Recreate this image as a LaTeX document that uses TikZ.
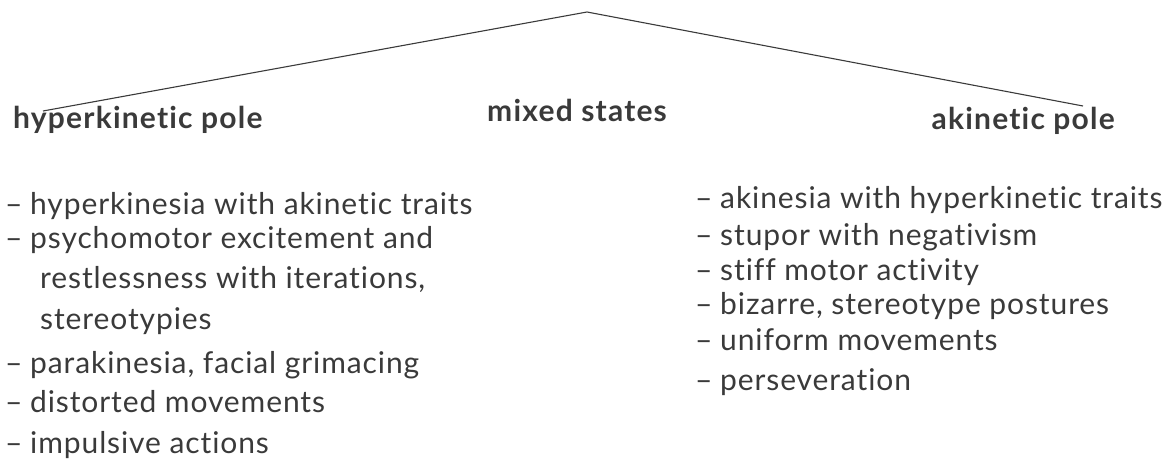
\documentclass[tikz,border=0pt]{standalone}
\usepackage{fontspec}
\setmainfont{Lato}[Ligatures=NoCommon]
\newfontfamily\bodyfont{Lato}[Ligatures=NoCommon, LetterSpace=3]
\newfontfamily\headfont{Lato Bold}[Ligatures=NoCommon, LetterSpace=4]
\definecolor{ink}{HTML}{3A3A3A}
\newcommand{\itm}[1]{\makebox[25pt][l]{–}#1}
\begin{document}
\begin{tikzpicture}[x=1pt,y=-1pt,
  head/.style={font=\headfont\fontsize{30}{34}\selectfont, text=ink, inner sep=0pt},
  body/.style={font=\bodyfont\fontsize{30}{34}\selectfont, text=ink, inner sep=0pt, anchor=base west},
  roof/.style={draw=ink, line width=1.1pt, line join=miter}]
\useasboundingbox (0,0) rectangle (1166,462);
% roof
\coordinate (apex) at (587,12);
\coordinate (lend) at (43,111);
\coordinate (rend) at (1083,106);
\draw[roof] (lend) -- (apex) -- (rend);
% headings
\node[head, anchor=base west] (hyp) at (13,129) {hyperkinetic pole};
\node[head, anchor=base west] (mix) at (487,122) {mixed states};
\node[head, anchor=base east] (aki) at (1115,130) {akinetic pole};
% left list
\node[body] (l1) at (5,215) {\itm{hyperkinesia with akinetic traits}};
\node[body] (l2) at (5,248) {\itm{psychomotor excitement and}};
\node[body] (l3) at (40,288) {restlessness with iterations,};
\node[body] (l4) at (40,329) {stereotypies};
\node[body] (l5) at (5,373) {\itm{parakinesia, facial grimacing}};
\node[body] (l6) at (5,412) {\itm{distorted movements}};
\node[body] (l7) at (5,453) {\itm{impulsive actions}};
% right list
\node[body] (r1) at (695,209) {\itm{akinesia with hyperkinetic traits}};
\node[body] (r2) at (695,246) {\itm{stupor with negativism}};
\node[body] (r3) at (695,280) {\itm{stiff motor activity}};
\node[body] (r4) at (695,314) {\itm{bizarre, stereotype postures}};
\node[body] (r5) at (695,350) {\itm{uniform movements}};
\node[body] (r6) at (695,390) {\itm{perseveration}};
\end{tikzpicture}
\end{document}
